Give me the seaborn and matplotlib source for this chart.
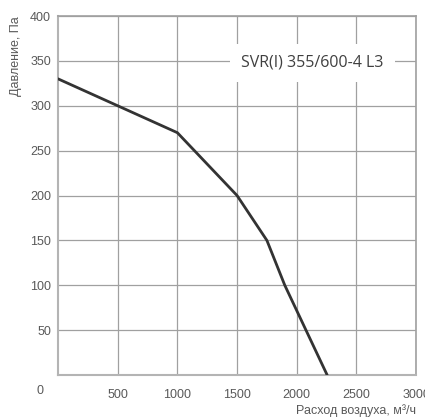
import seaborn as sns
import matplotlib.pyplot as plt
import pandas as pd

# curve
airflow = [0, 500, 1000, 1500, 1750, 1900, 2255]
pressure = [330, 300, 270, 200, 150, 100, 0]
x_ticks = [500, 1000, 1500, 2000, 2500, 3000]
y_ticks = [50, 100, 150, 200, 250, 300, 350, 400]
model_label = "SVR(I) 355/600-4 L3"

sns.set_style("white")
plt.rcParams['font.family'] = ['Liberation Sans', 'DejaVu Sans']

df = pd.DataFrame({'flow': airflow, 'pressure': pressure})

fig = plt.figure(figsize=(4.25, 4.17), dpi=100)
ax = fig.add_axes([0.1365, 0.1007, 0.8425, 0.8609])

sns.lineplot(data=df, x='flow', y='pressure', ax=ax, color='#333333',
             linewidth=2.0, zorder=3)

ax.set_xlim(0, 3000)
ax.set_ylim(0, 400)
ax.set_xticks(x_ticks)
ax.set_yticks(y_ticks)
ax.grid(True, color='#a0a0a0', linewidth=0.9)
ax.tick_params(axis='both', length=0, labelsize=9, colors='#595959', pad=5)
ax.tick_params(axis='x', pad=10)
for side in ['top', 'right']:
    ax.spines[side].set_color('#a0a0a0')
    ax.spines[side].set_linewidth(1.2)
for side in ['left', 'bottom']:
    ax.spines[side].set_color('#b4b4b4')
    ax.spines[side].set_linewidth(1.5)

# origin label sits apart from the axes corner
ax.text(-0.05, -0.028, '0', transform=ax.transAxes, fontsize=9,
        color='#595959', ha='center', va='top')

ax.set_xlabel('Расход воздуха, м³/ч', fontsize=9, color='#595959')
ax.xaxis.set_label_coords(1.0, -0.08)
ax.xaxis.label.set_horizontalalignment('right')
ax.set_ylabel('Давление, Па', fontsize=9, color='#595959')
ax.yaxis.set_label_coords(-0.135, 1.0)
ax.yaxis.label.set_verticalalignment('top')
ax.yaxis.label.set_horizontalalignment('right')

ax.text(2130, 348, model_label, fontsize=11.5, family='Open Sans',
        color='#404040', ha='center', va='center', zorder=4,
        bbox=dict(facecolor='white', edgecolor='none', pad=8))

fig.savefig('out.png', dpi=100)
